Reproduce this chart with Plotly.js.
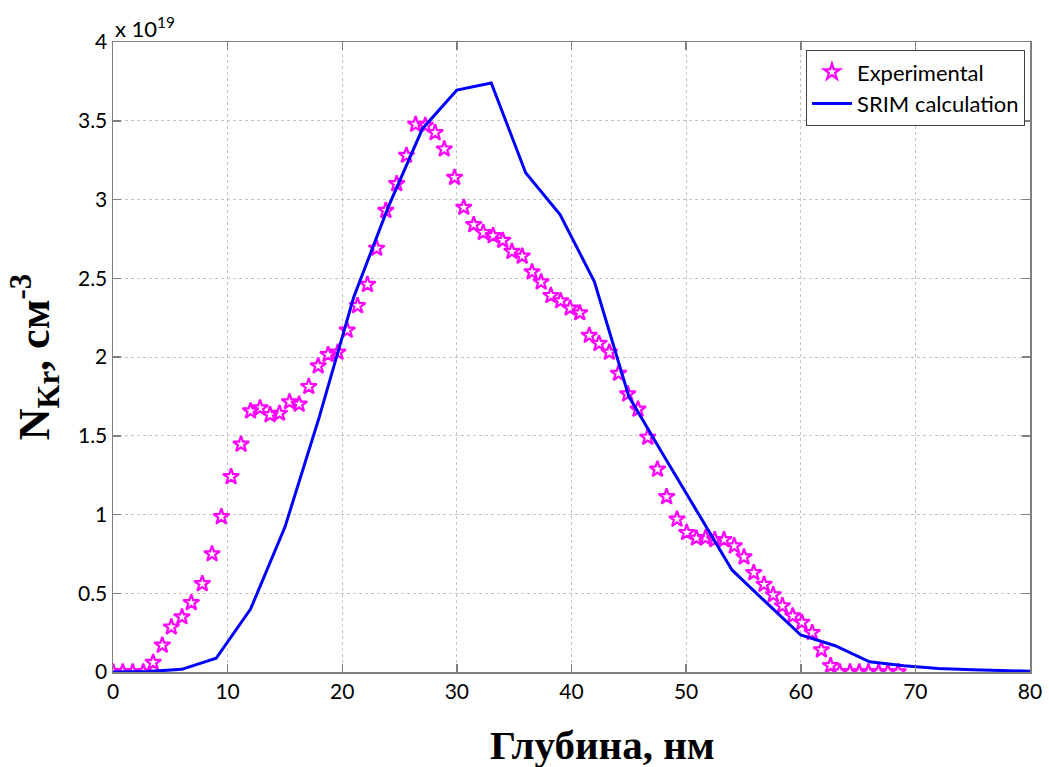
<!DOCTYPE html>
<html>
<head>
<meta charset="utf-8">
<script src="https://cdn.plot.ly/plotly-3.0.1.min.js"></script>
<style>html,body{margin:0;padding:0;background:#fff;}#chart{width:1049px;height:767px;}</style>
</head>
<body>
<div id="chart"></div>
<script>
// Experimental data (depth, nm; concentration, x 1e19 cm^-3)
const expDepth = [0, 0.85, 1.72, 2.64, 3.5, 4.3, 5.09, 6.02, 6.83, 7.79, 8.64, 9.45, 10.30, 11.17, 12.0, 12.83, 13.7, 14.52, 15.4, 16.24, 17.08, 17.9, 18.76, 19.62, 20.43, 21.33, 22.2, 23.0, 23.8, 24.75, 25.6, 26.4, 27.25, 28.1, 28.9, 29.8, 30.6, 31.47, 32.3, 33.16, 34.0, 34.8, 35.7, 36.56, 37.35, 38.2, 39.05, 39.88, 40.72, 41.55, 42.4, 43.3, 44.1, 44.9, 45.8, 46.65, 47.5, 48.3, 49.2, 50.05, 50.9, 51.7, 52.5, 53.3, 54.2, 55.05, 55.9, 56.8, 57.6, 58.4, 59.3, 60.1, 61.0, 61.8, 62.6, 63.4, 64.3, 65.1, 65.9, 66.8, 67.6, 68.5];
const expConc = [0, 0, 0, 0, 0.06, 0.17, 0.285, 0.35, 0.44, 0.56, 0.75, 0.986, 1.24, 1.446, 1.657, 1.676, 1.633, 1.642, 1.715, 1.70, 1.812, 1.943, 2.015, 2.03, 2.17, 2.325, 2.46, 2.69, 2.93, 3.10, 3.28, 3.477, 3.47, 3.424, 3.32, 3.14, 2.95, 2.84, 2.79, 2.77, 2.74, 2.67, 2.64, 2.54, 2.476, 2.39, 2.356, 2.31, 2.28, 2.137, 2.086, 2.03, 1.896, 1.765, 1.668, 1.49, 1.287, 1.113, 0.97, 0.885, 0.85, 0.852, 0.84, 0.84, 0.80, 0.73, 0.63, 0.556, 0.49, 0.42, 0.356, 0.315, 0.25, 0.14, 0.04, 0, 0, 0, 0, 0, 0, 0];

// SRIM calculation
const srimDepth = [0, 3, 6, 9, 12, 15, 18, 21, 24, 27, 30, 33, 36, 39, 42, 45, 48, 51, 54, 57, 60, 63, 66, 69, 72, 75, 78, 80];
const srimConc = [0, 0.003, 0.017, 0.087, 0.40, 0.92, 1.62, 2.38, 2.95, 3.45, 3.695, 3.74, 3.17, 2.905, 2.478, 1.75, 1.38, 1.01, 0.648, 0.44, 0.235, 0.167, 0.065, 0.04, 0.022, 0.014, 0.008, 0.005];

const xTicks = [0, 10, 20, 30, 40, 50, 60, 70, 80];
const yTicks = [0, 0.5, 1, 1.5, 2, 2.5, 3, 3.5, 4];
const yTickText = ['0', '0.5', '1', '1.5', '2', '2.5', '3', '3.5', '4'];

const tickFont = {family: 'Lato, "Open Sans", sans-serif', size: 21, color: '#000'};
const serif = '"Liberation Serif", "Times New Roman", serif';

const traces = [
  {
    x: expDepth, y: expConc, type: 'scatter', mode: 'markers', name: 'Experimental',
    marker: {symbol: 'star-open', size: 12, color: '#ff00ff', line: {color: '#ff00ff', width: 2.2}}
  },
  {
    x: srimDepth, y: srimConc, type: 'scatter', mode: 'lines', name: 'SRIM calculation',
    line: {color: '#0000ff', width: 3}
  }
];

const axisCommon = {
  showline: true, linecolor: '#7f7f7f', linewidth: 1.5, mirror: 'ticks',
  ticks: 'inside', ticklen: 8, tickcolor: '#7f7f7f', tickwidth: 1.5,
  showgrid: true, gridcolor: '#c4c4c4', griddash: 'dot', gridwidth: 1,
  zeroline: false, tickfont: tickFont
};

const layout = {
  width: 1049, height: 767,
  margin: {l: 113, r: 19, t: 42, b: 95, pad: 0},
  paper_bgcolor: '#fff', plot_bgcolor: '#fff',
  showlegend: true,
  legend: {
    x: 0.9945, xanchor: 'right', y: 0.987, yanchor: 'top',
    bgcolor: '#fff', bordercolor: '#404040', borderwidth: 1,
    font: {family: 'Lato, "Open Sans", sans-serif', size: 22, color: '#000'},
    tracegroupgap: 0, itemwidth: 40
  },
  xaxis: Object.assign({}, axisCommon, {
    range: [0, 80], tickvals: xTicks, ticktext: xTicks.map(String)
  }),
  yaxis: Object.assign({}, axisCommon, {
    range: [0, 4], tickvals: yTicks, ticktext: yTickText,
    title: {text: '<b>N<sub>Kr</sub>, см<sup>-3</sup></b>', font: {family: serif, size: 44, color: '#000'}, standoff: 14}
  }),
  annotations: [
    {
      text: 'x 10<sup>19</sup>', xref: 'paper', yref: 'paper', x: 0, y: 1, xanchor: 'left', yanchor: 'bottom',
      showarrow: false, font: {family: 'Lato, "Open Sans", sans-serif', size: 22, color: '#000'}, yshift: -2
    },
    {
      text: '<b>Глубина, нм</b>', xref: 'paper', yref: 'paper', x: 0.5, y: 0, xanchor: 'center', yanchor: 'middle',
      xshift: 31, yshift: -73, showarrow: false, font: {family: serif, size: 41, color: '#000'}
    }
  ]
};

Plotly.newPlot('chart', traces, layout, {displayModeBar: false, staticPlot: true});
</script>
</body>
</html>
